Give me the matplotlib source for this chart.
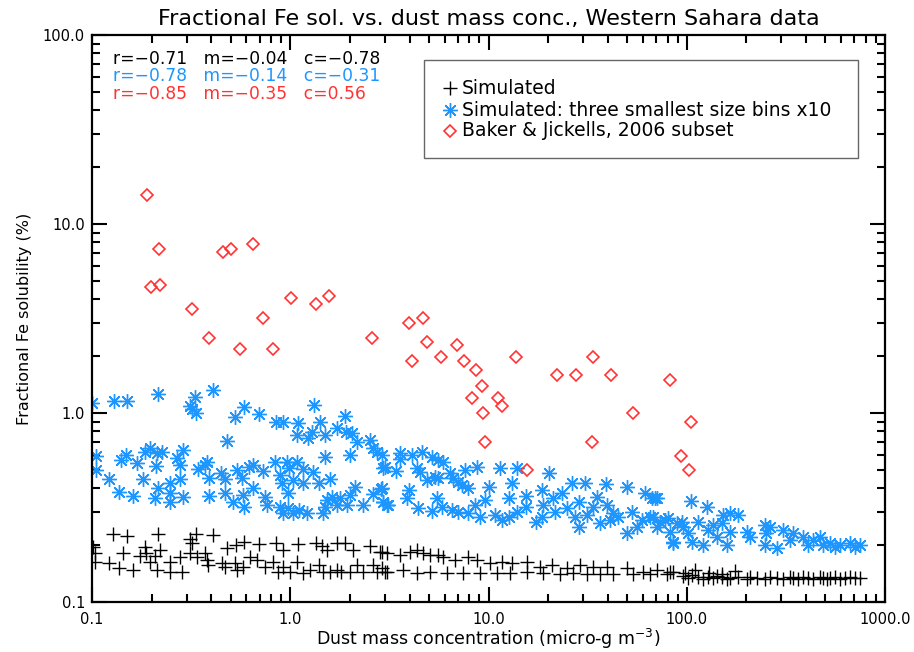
import matplotlib
matplotlib.use("Agg")
import matplotlib.pyplot as plt
from matplotlib.ticker import FixedLocator, FixedFormatter, LogLocator, NullFormatter
from matplotlib.patches import Rectangle

# ---------------- data ----------------
# Simulated (black +)
sim_x = [0.128, 0.150, 0.215, 0.312, 0.335, 0.319, 0.408, 0.480, 0.532, 0.584, 0.696, 0.847,
         0.919, 1.09, 1.35, 1.44, 1.53, 1.72, 1.89, 2.07, 2.53, 2.84,
         0.101, 0.104, 0.104, 0.122, 0.137, 0.143, 0.161, 0.175, 0.185, 0.187, 0.196, 0.208,
         0.213, 0.220, 0.247, 0.247, 0.278, 0.285, 0.312, 0.339, 0.372, 0.380, 0.385, 0.453,
         0.469, 0.526, 0.539, 0.578, 0.627, 0.679, 0.746, 0.819, 0.867, 0.919, 0.997, 1.08,
         1.16, 1.26, 1.40, 1.46, 1.59, 1.72, 1.80, 2.00, 2.16, 2.33, 2.61, 2.74, 3.00,
         2.90, 3.07, 3.58, 4.03, 4.36, 4.68, 5.07, 5.56, 5.88, 6.79, 7.88, 8.75, 10.2, 11.7,
         13.2, 15.6, 18.2, 20.9, 24.9, 28.9, 33.7, 39.6, 49.9, 60.2, 70.8, 82.3,
         2.90, 3.07, 3.70, 4.36, 5.07, 6.16, 7.43, 9.06, 11.0, 12.8, 15.6, 18.8, 22.9, 26.7,
         31.4, 36.5, 42.5, 53.5, 65.3, 79.5,
         85.0, 98.0, 110.0, 130.0, 150.0, 175.0,
         95.7, 101, 106, 114, 121, 128, 136, 142, 151, 160, 165, 181, 201, 208, 225, 248, 263,
         285, 306, 332, 343, 365, 386, 409, 433, 470, 487, 510, 528, 559, 593, 630, 666, 706, 748]
sim_y = [0.229, 0.224, 0.229, 0.216, 0.229, 0.206, 0.226, 0.193, 0.200, 0.208, 0.203, 0.206,
         0.188, 0.203, 0.206, 0.198, 0.188, 0.206, 0.206, 0.188, 0.198, 0.184,
         0.196, 0.182, 0.163, 0.161, 0.151, 0.182, 0.148, 0.176, 0.196, 0.182, 0.163, 0.176,
         0.148, 0.188, 0.163, 0.144, 0.174, 0.144, 0.182, 0.172, 0.182, 0.167, 0.157, 0.161,
         0.153, 0.161, 0.148, 0.153, 0.172, 0.167, 0.153, 0.163, 0.144, 0.153, 0.144, 0.163,
         0.143, 0.148, 0.157, 0.144, 0.144, 0.148, 0.144, 0.144, 0.157, 0.144, 0.157, 0.144, 0.144,
         0.184, 0.182, 0.177, 0.184, 0.188, 0.182, 0.177, 0.177, 0.172, 0.167, 0.174, 0.167, 0.161, 0.163,
         0.161, 0.163, 0.153, 0.157, 0.151, 0.157, 0.153, 0.153, 0.151, 0.144, 0.148, 0.144,
         0.151, 0.144, 0.148, 0.143, 0.144, 0.143, 0.143, 0.143, 0.143, 0.143, 0.144, 0.143, 0.141, 0.143,
         0.141, 0.141, 0.141, 0.141, 0.141, 0.141,
         0.145, 0.142, 0.148, 0.143, 0.141, 0.146,
         0.137, 0.134, 0.139, 0.135, 0.133, 0.136, 0.134, 0.138, 0.135, 0.133, 0.134, 0.136, 0.133,
         0.135, 0.134, 0.133, 0.135, 0.134, 0.133, 0.136, 0.134, 0.133, 0.135, 0.134, 0.133, 0.135,
         0.134, 0.133, 0.134, 0.135, 0.133, 0.134, 0.135, 0.134, 0.134]

# Simulated: three smallest size bins x10 (blue asterisks)
small_x = [0.100, 0.129, 0.150, 0.215, 0.312, 0.331, 0.319, 0.335, 0.408, 0.480, 0.526, 0.584,
           0.696, 0.847, 0.919, 1.09, 1.08, 1.23, 1.29, 1.42, 1.50, 1.32, 1.89, 1.72, 1.91, 2.05,
           2.18, 2.00, 2.53, 2.61, 2.74, 2.94, 1.50,
           0.105, 0.105, 0.122, 0.137, 0.140, 0.148, 0.161, 0.169, 0.181, 0.185, 0.196, 0.213,
           0.226, 0.210, 0.215, 0.208, 0.247, 0.247, 0.247, 0.278, 0.288, 0.278, 0.288, 0.268,
           0.342, 0.372, 0.380, 0.389, 0.389, 0.447, 0.469, 0.469, 0.514, 0.539, 0.571, 0.578,
           0.584, 0.619, 0.649, 0.649, 0.728, 0.746, 0.763, 0.838, 0.888, 0.909, 0.962, 0.985,
           1.08, 0.974, 1.03, 1.16, 1.16, 0.888, 0.919, 0.974, 1.03, 1.11, 1.21, 1.31, 1.39,
           1.46, 1.50, 1.59, 1.53, 1.62, 1.72, 1.78, 1.93, 2.00, 2.13, 2.33, 2.61, 2.87, 2.94, 3.07,
           2.90, 3.00, 3.58, 3.58, 3.42, 4.11, 4.36, 4.62, 4.53, 4.90, 5.19, 5.56, 5.88, 5.56,
           5.37, 6.39, 6.62, 7.02, 7.35, 7.61, 7.88, 8.75, 10.1, 11.4, 13.1, 13.9, 20.2, 18.6,
           26.4, 30.7, 39.1, 49.9, 61.6, 70.8,
           2.90, 2.94, 3.13, 3.89, 3.98, 4.41, 5.19, 5.50, 5.82, 6.54, 7.02, 7.88, 9.06, 8.55,
           9.60, 10.8, 11.7, 12.7, 12.7, 13.9, 15.5, 15.5, 17.4, 18.6, 18.8, 21.1, 21.6, 23.5,
           24.9, 27.3, 28.6, 28.6, 31.4, 33.7, 35.3, 36.5, 39.6, 41.0, 42.5, 45.0, 49.9, 52.9,
           56.1, 59.5, 65.3, 70.8, 77.7, 82.3, 85.2, 89.3,
           66.8, 69.1, 105, 126, 152, 165, 181, 67.6, 73.3, 80.4, 85.2, 94.6, 95.7, 101, 106,
           114, 121, 128, 136, 142, 151, 160, 165, 201, 208, 248, 252, 248, 285, 263, 306, 332,
           343, 386, 409, 433, 470, 487, 528, 559, 593, 666, 706, 748]
small_y = [1.13, 1.16, 1.16, 1.26, 1.09, 1.22, 1.05, 1.00, 1.32, 0.710, 0.953, 1.08,
           0.988, 0.896, 0.896, 0.885, 0.765, 0.737, 0.793, 0.896, 0.765, 1.10, 0.964, 0.833,
           0.793, 0.784, 0.703, 0.600, 0.719, 0.653, 0.622, 0.512, 0.585,
           0.592, 0.499, 0.447, 0.382, 0.564, 0.600, 0.364, 0.544, 0.447, 0.622, 0.653, 0.614,
           0.622, 0.524, 0.401, 0.355, 0.426, 0.377, 0.338, 0.531, 0.637, 0.447, 0.359, 0.578,
           0.506, 0.531, 0.550, 0.453, 0.364, 0.481, 0.447, 0.377, 0.338, 0.499, 0.453, 0.368,
           0.318, 0.518, 0.531, 0.401, 0.493, 0.359, 0.326, 0.550, 0.470, 0.426, 0.550, 0.512,
           0.550, 0.377, 0.442, 0.506, 0.426, 0.318, 0.296, 0.314, 0.296, 0.307, 0.296, 0.487, 0.426,
           0.296, 0.318, 0.447, 0.347, 0.359, 0.326, 0.355, 0.326, 0.368, 0.406, 0.326, 0.373, 0.396,
           0.338, 0.326,
           0.600, 0.518, 0.614, 0.571, 0.493, 0.600, 0.512, 0.622, 0.487, 0.442, 0.585, 0.564,
           0.550, 0.453, 0.458, 0.481, 0.453, 0.431, 0.416, 0.499, 0.401, 0.518, 0.406, 0.512,
           0.426, 0.512, 0.481, 0.391, 0.426, 0.426, 0.421, 0.406, 0.377, 0.355,
           0.401, 0.338, 0.326, 0.355, 0.391, 0.314, 0.303, 0.355, 0.318, 0.307, 0.300, 0.296,
           0.282, 0.326, 0.347, 0.289, 0.272, 0.282, 0.355, 0.300, 0.318, 0.364, 0.265, 0.282,
           0.326, 0.355, 0.300, 0.377, 0.314, 0.282, 0.249, 0.338, 0.289, 0.318, 0.359, 0.262,
           0.326, 0.272, 0.296, 0.282, 0.231, 0.300, 0.249, 0.272, 0.282, 0.249, 0.272, 0.235,
           0.206, 0.262,
           0.355, 0.355, 0.342, 0.318, 0.289, 0.296, 0.289, 0.282, 0.265, 0.278, 0.208, 0.265,
           0.249, 0.231, 0.208, 0.265, 0.200, 0.240, 0.256, 0.222, 0.262, 0.200, 0.235, 0.235,
           0.222, 0.256, 0.231, 0.200, 0.193, 0.249, 0.240, 0.213, 0.231, 0.222, 0.200, 0.213,
           0.222, 0.200, 0.206, 0.196, 0.200, 0.206, 0.196, 0.200]

# Baker & Jickells, 2006 subset (red diamonds)
obs_x = [0.189, 0.198, 0.218, 0.220, 0.320, 0.389, 0.458, 0.502, 0.558, 0.649, 0.729, 0.818,
         1.01, 1.35, 1.57, 2.58, 3.97, 4.11, 4.67, 4.90, 5.76, 6.93, 7.52, 8.65, 8.26, 9.27,
         9.38, 9.60, 11.2, 11.7, 13.8, 15.6, 22.2, 27.6, 33.7, 33.3, 41.5, 53.6, 82.3, 93.5,
         105, 103]
obs_y = [14.2, 4.64, 7.38, 4.75, 3.55, 2.49, 7.11, 7.38, 2.18, 7.84, 3.18, 2.18,
         4.06, 3.77, 4.16, 2.49, 2.99, 1.88, 3.18, 2.38, 1.98, 2.29, 1.88, 1.69, 1.20, 1.39,
         1.00, 0.703, 1.20, 1.09, 1.98, 0.499, 1.59, 1.59, 1.98, 0.703, 1.59, 1.00, 1.50, 0.592,
         0.895, 0.499]

stats_text = ["r=\u22120.71   m=\u22120.04   c=\u22120.78",
              "r=\u22120.78   m=\u22120.14   c=\u22120.31",
              "r=\u22120.85   m=\u22120.35   c=0.56"]
legend_labels = ["Simulated", "Simulated: three smallest size bins x10",
                 "Baker & Jickells, 2006 subset"]
xtick_vals = [0.1, 1, 10, 100, 1000]
xtick_labels = ["0.1", "1.0", "10.0", "100.0", "1000.0"]
ytick_vals = [0.1, 1, 10, 100]
ytick_labels = ["0.1", "1.0", "10.0", "100.0"]

# ---------------- style ----------------
BLUE = "#1E96FF"
RED = "#FF3333"
plt.rcParams['font.family'] = ['DejaVu Sans']

fig = plt.figure(figsize=(9.14, 6.52), dpi=100)
ax = fig.add_axes([92 / 914, 1 - 602 / 652, 793 / 914, 567 / 652])
ax.set_xscale('log')
ax.set_yscale('log')
ax.set_xlim(0.1, 1000)
ax.set_ylim(0.1, 100)

ax.plot(sim_x, sim_y, linestyle='none', marker='+', ms=10, mew=1.0, color='black')
ax.plot(small_x, small_y, linestyle='none', marker=(8, 2, 0), ms=10.5, mew=1.0, color=BLUE)
ax.plot(obs_x, obs_y, linestyle='none', marker='D', ms=6.6, mew=1.2,
        mfc='none', mec=RED)

for s in ax.spines.values():
    s.set_linewidth(1.6)

ax.xaxis.set_major_locator(FixedLocator(xtick_vals))
ax.xaxis.set_major_formatter(FixedFormatter(xtick_labels))
ax.yaxis.set_major_locator(FixedLocator(ytick_vals))
ax.yaxis.set_major_formatter(FixedFormatter(ytick_labels))
ax.xaxis.set_minor_locator(LogLocator(base=10, subs=range(2, 10), numticks=20))
ax.yaxis.set_minor_locator(LogLocator(base=10, subs=range(2, 10), numticks=20))
ax.xaxis.set_minor_formatter(NullFormatter())
ax.yaxis.set_minor_formatter(NullFormatter())
ax.tick_params(which='both', direction='in', top=True, right=True, width=1.5)
ax.tick_params(which='major', length=10.5, labelsize=10.5)
ax.tick_params(axis='x', which='major', pad=7)
ax.tick_params(axis='y', which='major', pad=5)
ax.tick_params(which='minor', length=5.5)

ax.set_title("Fractional Fe sol. vs. dust mass conc., Western Sahara data",
             fontsize=16, pad=7)
ax.set_xlabel("Dust mass concentration (micro-g m$^{-3}$)", fontsize=12.5, labelpad=0)
ax.set_ylabel("Fractional Fe solubility (%)", fontsize=11.5, labelpad=8)

# statistics text
for txt, col, yy in zip(stats_text, ['black', BLUE, RED], [0.9577, 0.9277, 0.8959]):
    ax.text(0.0265, yy, txt, transform=ax.transAxes, color=col, fontsize=12.3,
            ha='left', va='center')

# legend box
ax.add_patch(Rectangle((0.4187, 0.7831), 0.966 - 0.4187, 0.9559 - 0.7831,
                       transform=ax.transAxes, fill=True, facecolor='white',
                       edgecolor='#666666', linewidth=1.0, zorder=5))
legend_styles = [dict(marker='+', ms=10, mew=1.0, color='black'),
                 dict(marker=(8, 2, 0), ms=10.5, mew=1.0, color=BLUE),
                 dict(marker='D', ms=6.6, mew=1.2, mfc='none', mec=RED)]
for lab, sty, yy in zip(legend_labels, legend_styles, [0.9065, 0.8677, 0.8307]):
    ax.plot([0.4515], [yy], transform=ax.transAxes, linestyle='none', clip_on=False,
            zorder=6, **sty)
    ax.text(0.4666, yy, lab, transform=ax.transAxes, fontsize=13.5, ha='left',
            va='center', zorder=6)

fig.savefig("out.png", dpi=100)
